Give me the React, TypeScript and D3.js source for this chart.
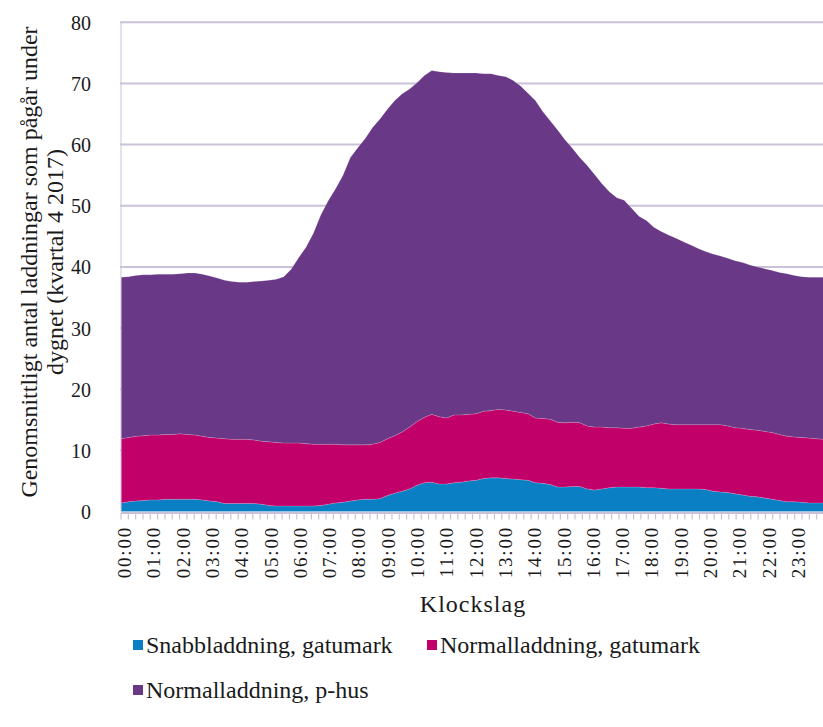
import { useEffect, useRef } from "react";
import { select, scaleLinear, scaleBand, scalePoint, stack, area } from "d3";

// 15-minute slots, 00:00 .. 23:45
const times: string[] = [];
for (let h = 0; h < 24; h++) {
  for (let q = 0; q < 4; q++) {
    times.push(`${String(h).padStart(2, "0")}:${String(q * 15).padStart(2, "0")}`);
  }
}

const seriesNames = [
  "Snabbladdning, gatumark",
  "Normalladdning, gatumark",
  "Normalladdning, p-hus",
];

const snabbGatumark = [
  1.4, 1.6, 1.7, 1.8, 1.9, 1.9, 2.0, 2.0, 2.0, 2.0, 2.0, 1.9,
  1.7, 1.6, 1.3, 1.3, 1.3, 1.3, 1.3, 1.2, 1.0, 0.9, 0.9, 0.9,
  0.9, 0.9, 0.9, 1.0, 1.2, 1.4, 1.5, 1.7, 1.9, 2.0, 2.0, 2.1,
  2.6, 3.0, 3.3, 3.7, 4.3, 4.7, 4.8, 4.5, 4.5, 4.7, 4.8, 5.0,
  5.1, 5.4, 5.5, 5.5, 5.4, 5.3, 5.2, 5.1, 4.7, 4.6, 4.4, 4.0,
  4.0, 4.1, 4.1, 3.7, 3.5, 3.7, 3.9, 4.0, 4.0, 4.0, 4.0, 3.9,
  3.9, 3.8, 3.7, 3.7, 3.7, 3.7, 3.7, 3.6, 3.3, 3.2, 3.1, 2.9,
  2.7, 2.5, 2.4, 2.2, 2.0, 1.8, 1.6, 1.6, 1.5, 1.4, 1.4, 1.4,
];

const normalGatumark = [
  10.5, 10.5, 10.6, 10.6, 10.6, 10.6, 10.6, 10.6, 10.7, 10.6, 10.5, 10.4,
  10.4, 10.4, 10.6, 10.5, 10.5, 10.5, 10.4, 10.3, 10.4, 10.4, 10.3, 10.3,
  10.3, 10.2, 10.1, 10.0, 9.8, 9.6, 9.4, 9.2, 9.0, 8.9, 9.0, 9.2,
  9.3, 9.4, 9.7, 10.1, 10.4, 10.7, 11.1, 11.0, 10.8, 11.1, 11.0, 10.9,
  10.9, 11.0, 11.0, 11.2, 11.2, 11.1, 11.0, 10.9, 10.6, 10.6, 10.7, 10.6,
  10.5, 10.5, 10.4, 10.3, 10.3, 10.1, 9.8, 9.7, 9.6, 9.6, 9.8, 10.1,
  10.4, 10.7, 10.6, 10.5, 10.5, 10.5, 10.5, 10.6, 10.9, 11.0, 10.9, 10.8,
  10.9, 10.9, 10.9, 10.9, 10.9, 10.8, 10.7, 10.6, 10.6, 10.6, 10.5, 10.4,
];

const normalPhus = [
  26.4, 26.3, 26.3, 26.3, 26.2, 26.3, 26.2, 26.2, 26.2, 26.4, 26.5, 26.5,
  26.4, 26.2, 25.9, 25.8, 25.7, 25.7, 25.9, 26.2, 26.4, 26.7, 27.2, 28.4,
  30.3, 32.1, 34.5, 37.5, 39.8, 41.8, 44.1, 47.0, 48.6, 50.1, 51.8, 52.9,
  53.9, 54.8, 55.3, 55.3, 55.4, 55.9, 56.2, 56.4, 56.5, 55.9, 55.9, 55.8,
  55.7, 55.2, 55.1, 54.6, 54.5, 54.1, 53.4, 52.4, 51.9, 50.2, 48.8, 47.8,
  46.3, 44.8, 43.4, 42.6, 41.3, 39.8, 38.6, 37.6, 37.3, 36.0, 34.5, 33.6,
  32.2, 31.3, 30.9, 30.5, 29.9, 29.4, 28.8, 28.3, 27.9, 27.6, 27.4, 27.3,
  27.1, 26.9, 26.7, 26.6, 26.5, 26.5, 26.6, 26.4, 26.3, 26.3, 26.4, 26.5,
];

const yTicks = [0, 10, 20, 30, 40, 50, 60, 70, 80];

const colors = ["#0a7fc4", "#c2006a", "#693886"];

const width = 823;
const height = 727;
const plot = { left: 121, right: 824, top: 22.3, bottom: 511.5 };
const font = "'Liberation Serif', 'Times New Roman', serif";
const gridColor = "#cbc2da";

export default function App() {
  const d3svg = useRef<SVGSVGElement>(null);

  useEffect(() => {
    if (!d3svg.current) return;
    const svg = select(d3svg.current);
    svg.selectAll("*").remove();

    const table = times.map((t, i) => ({
      time: t,
      [seriesNames[0]]: snabbGatumark[i],
      [seriesNames[1]]: normalGatumark[i],
      [seriesNames[2]]: normalPhus[i],
    }));

    const xPoint = scalePoint<string>().domain(times).range([plot.left, plot.right]);
    const xBand = scaleBand<string>().domain(times).range([plot.left, plot.right]);
    const y = scaleLinear().domain([0, 80]).range([plot.bottom, plot.top]);

    // gridlines
    svg
      .append("g")
      .selectAll("line")
      .data(yTicks.filter((v) => v > 0))
      .enter()
      .append("line")
      .attr("x1", plot.left - 1)
      .attr("x2", width)
      .attr("y1", (d) => y(d))
      .attr("y2", (d) => y(d))
      .attr("stroke", gridColor)
      .attr("stroke-width", 2);

    // stacked areas
    const stacked = stack<any>().keys(seriesNames)(table);
    const areaGen = area<any>()
      .x((d) => xPoint(d.data.time) as number)
      .y0((d) => y(d[0]))
      .y1((d) => y(d[1]));

    svg
      .append("g")
      .selectAll("path")
      .data(stacked)
      .enter()
      .append("path")
      .attr("d", (d) => areaGen(d) as string)
      .attr("fill", (d, i) => colors[i])
      .attr("stroke", "rgba(255,255,255,0.25)")
      .attr("stroke-width", 0.6);

    // y axis line
    svg
      .append("line")
      .attr("x1", plot.left)
      .attr("x2", plot.left)
      .attr("y1", plot.top)
      .attr("y2", plot.bottom)
      .attr("stroke", gridColor)
      .attr("stroke-width", 1);

    // x axis line + ticks
    svg
      .append("line")
      .attr("x1", plot.left)
      .attr("x2", width)
      .attr("y1", plot.bottom + 1.5)
      .attr("y2", plot.bottom + 1.5)
      .attr("stroke", gridColor)
      .attr("stroke-width", 2);

    svg
      .append("g")
      .selectAll("line")
      .data(times)
      .enter()
      .append("line")
      .attr("x1", (d) => xBand(d) as number)
      .attr("x2", (d) => xBand(d) as number)
      .attr("y1", plot.bottom + 1.5)
      .attr("y2", plot.bottom + 8)
      .attr("stroke", gridColor)
      .attr("stroke-width", 1.2);

    // y tick labels
    svg
      .append("g")
      .selectAll("text")
      .data(yTicks)
      .enter()
      .append("text")
      .attr("x", 91)
      .attr("y", (d) => y(d) + 7.5)
      .attr("text-anchor", "end")
      .attr("font-family", font)
      .attr("font-size", "20px")
      .attr("fill", "#1a1a1a")
      .text((d) => d);

    // x tick labels (every hour)
    const bw = xBand.bandwidth();
    svg
      .append("g")
      .selectAll("text")
      .data(times.filter((t) => t.endsWith(":00")))
      .enter()
      .append("text")
      .attr("transform", (d) => {
        const cx = (xBand(d) as number) + bw / 2 + 6.5;
        return `translate(${cx}, 526) rotate(-90)`;
      })
      .attr("text-anchor", "end")
      .attr("font-family", font)
      .attr("font-size", "19px")
      .attr("letter-spacing", "1.8px")
      .attr("fill", "#1a1a1a")
      .text((d) => d);

    // axis titles
    svg
      .append("text")
      .attr("x", 473)
      .attr("y", 612)
      .attr("text-anchor", "middle")
      .attr("font-family", font)
      .attr("font-size", "24px")
      .attr("letter-spacing", "1px")
      .attr("fill", "#1a1a1a")
      .text("Klockslag");

    const yTitle = svg
      .append("text")
      .attr("transform", "translate(0, 262) rotate(-90)")
      .attr("text-anchor", "middle")
      .attr("font-family", font)
      .attr("font-size", "24px")
      .attr("fill", "#1a1a1a");
    yTitle.append("tspan").attr("x", 0).attr("y", 37).text("Genomsnittligt antal laddningar som pågår under");
    yTitle.append("tspan").attr("x", 0).attr("y", 63).text("dygnet (kvartal 4 2017)");

    // legend
    const legendPos = [
      { x: 133, y: 645 },
      { x: 427, y: 645 },
      { x: 133, y: 690 },
    ];
    const legend = svg
      .append("g")
      .selectAll("g")
      .data(seriesNames)
      .enter()
      .append("g")
      .attr("transform", (d, i) => `translate(${legendPos[i].x}, ${legendPos[i].y})`);
    legend
      .append("rect")
      .attr("x", 0)
      .attr("y", -5)
      .attr("width", 10)
      .attr("height", 10)
      .attr("fill", (d, i) => colors[i]);
    legend
      .append("text")
      .attr("x", 13)
      .attr("y", 8)
      .attr("font-family", font)
      .attr("font-size", "24px")
      .attr("fill", "#1a1a1a")
      .text((d) => d);
  }, []);

  return (
    <svg
      ref={d3svg}
      width={width}
      height={height}
      style={{ position: "absolute", left: 0, top: 0, background: "#fff" }}
    ></svg>
  );
}
